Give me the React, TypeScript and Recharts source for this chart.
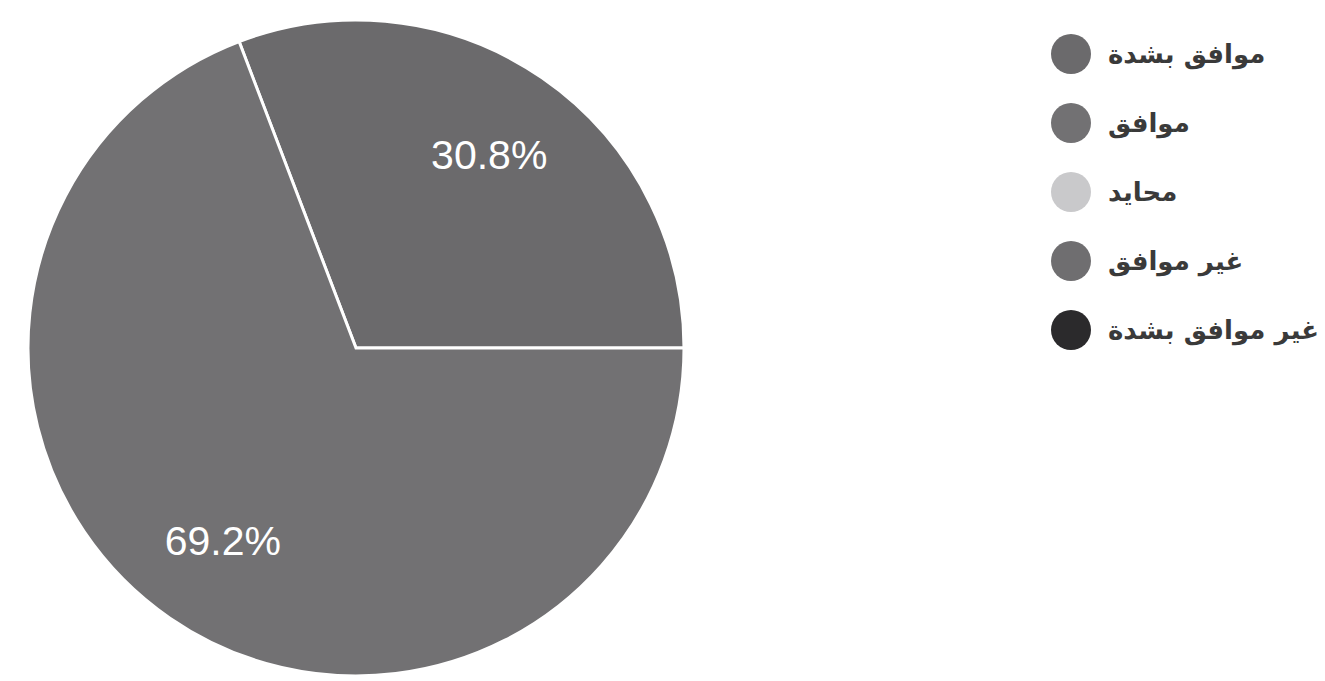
import { PieChart, Pie, Cell, Legend } from 'recharts'

// answer categories (legend order)
const categories = ['موافق بشدة', 'موافق', 'محايد', 'غير موافق', 'غير موافق بشدة']
const categoryColors = ['#6b6a6c', '#727173', '#c9c9cb', '#6f6e70', '#2b2a2c']

// share of answers in percent, per category
const shares = [30.8, 69.2, 0, 0, 0]

const RADIAN = Math.PI / 180

function SliceLabel(props: any) {
  const { cx, cy, midAngle, outerRadius, value } = props
  const r = outerRadius * 0.716
  const x = cx + r * Math.cos(-midAngle * RADIAN)
  const y = cy + r * Math.sin(-midAngle * RADIAN)
  return (
    <text
      x={x}
      y={y}
      fill="#ffffff"
      textAnchor="middle"
      dominantBaseline="central"
      style={{ fontFamily: '"Liberation Sans", Arial, sans-serif', fontSize: 41 }}
    >
      {`${Number(value).toFixed(1)}%`}
    </text>
  )
}

function LegendList() {
  return (
    <div style={{ fontFamily: '"DejaVu Sans", sans-serif' }}>
      {categories.map((c, i) => (
        <div
          key={c}
          style={{
            display: 'flex',
            alignItems: 'center',
            height: 69,
            whiteSpace: 'nowrap',
          }}
        >
          <div
            style={{
              width: 40,
              height: 40,
              borderRadius: '50%',
              background: categoryColors[i],
              flexShrink: 0,
            }}
          />
          <span
            dir="rtl"
            style={{
              marginLeft: 17,
              fontSize: 26,
              fontWeight: 'bold',
              color: '#3a3a3a',
            }}
          >
            {c}
          </span>
        </div>
      ))}
    </div>
  )
}

export default function App() {
  const data = categories
    .map((name, i) => ({ name, value: shares[i], color: categoryColors[i] }))
    .filter((d) => d.value > 0)

  return (
    <div
      style={{
        position: 'fixed',
        top: 0,
        left: 0,
        width: 1325,
        height: 681,
        overflow: 'hidden',
        background: '#ffffff',
      }}
    >
      <PieChart width={1325} height={681} margin={{ top: 0, right: 0, bottom: 0, left: 0 }}>
        <Pie
          data={data}
          dataKey="value"
          nameKey="name"
          cx={356}
          cy={348}
          outerRadius={328}
          startAngle={0}
          endAngle={360}
          stroke="#ffffff"
          strokeWidth={3}
          label={SliceLabel}
          labelLine={false}
          isAnimationActive={false}
        >
          {data.map((d) => (
            <Cell key={d.name} fill={d.color} />
          ))}
        </Pie>
        <Legend
          content={() => <LegendList />}
          wrapperStyle={{ position: 'absolute', left: 1051, top: 19, width: 300 }}
        />
      </PieChart>
    </div>
  )
}
